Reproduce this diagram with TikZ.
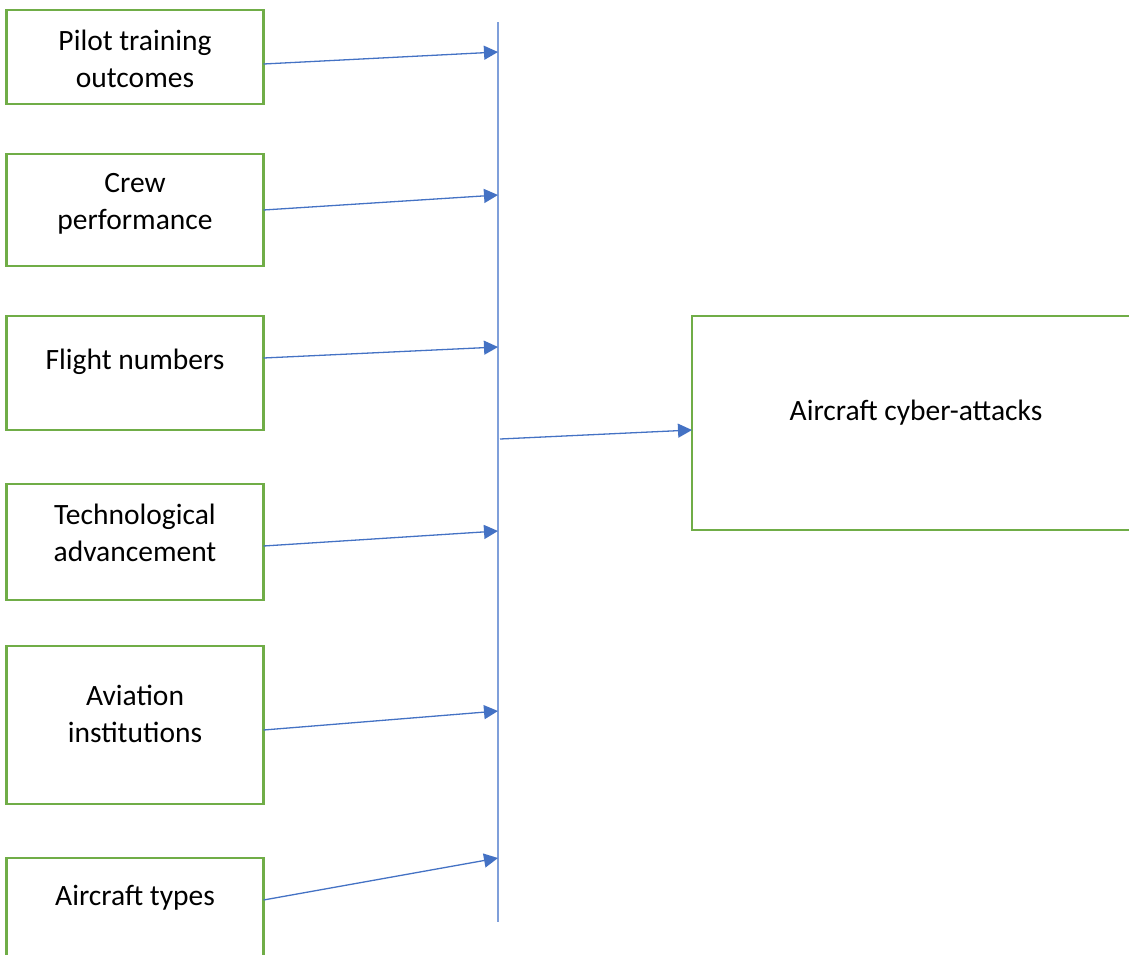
\documentclass[tikz,border=0pt]{standalone}
\usepackage{fontspec}
\setmainfont{Carlito}
\usetikzlibrary{arrows.meta,calc}
\definecolor{boxgreen}{HTML}{70AD47}
\definecolor{arrblue}{HTML}{4472C4}
\definecolor{lineblue}{HTML}{7F9FDA}
\tikzset{
  box/.style={draw=boxgreen,line width=2.8pt,inner sep=0pt,outer sep=0pt,fill=none},
  lbl/.style={align=center,inner sep=0pt,font=\fontsize{29.5}{37}\selectfont},
  arr/.style={draw=arrblue,line width=1.3pt,-{Triangle[length=14pt,width=14pt]}},
  bus/.style={draw=lineblue,line width=1.6pt}
}
\begin{document}
\begin{tikzpicture}[x=1pt,y=-1pt]
\useasboundingbox (0,0) rectangle (1129,954);
\clip (0,0) rectangle (1129,954);
% boxes
\node[box,minimum width=257pt,minimum height=94pt] (box1) at (135,57) {};
\node[box,minimum width=257pt,minimum height=112pt] (box2) at (135,210) {};
\node[box,minimum width=257pt,minimum height=114pt] (box3) at (135,373) {};
\node[box,minimum width=257pt,minimum height=116pt] (box4) at (135,542) {};
\node[box,minimum width=257pt,minimum height=158pt] (box5) at (135,725) {};
\node[box,minimum width=257pt,minimum height=140pt] (box6) at (135,928) {};
\node[box,minimum width=460pt,minimum height=214pt] (box7) at (922,423) {};
% texts
\node[lbl] (t1) at (135,59) {Pilot training\\outcomes};
\node[lbl] (t2) at (135,204) {Crew\\performance};
\node[lbl] (t3) at (135,362) {Flight numbers};
\node[lbl] (t4) at (135,533) {Technological\\advancement};
\node[lbl] (t5) at (135,714) {Aviation\\institutions};
\node[lbl] (t6) at (135,898) {Aircraft types};
\node[lbl] (t7) at (916,413) {Aircraft cyber-attacks};
% bus line
\coordinate (top) at (498,22);
\coordinate (bot) at (498,922);
\draw[bus] (top) -- (bot);
\coordinate (p1) at (498,52);
\coordinate (p2) at (498,195);
\coordinate (p3) at (498,347);
\coordinate (p4) at (498,531);
\coordinate (p5) at (498,711);
\coordinate (p6) at (498,858);
\coordinate (q) at (500,439);
% arrows
\draw[arr] ($(box1.north east)+(0,54)$) -- (p1);
\draw[arr] ($(box2.north east)+(0,56)$) -- (p2);
\draw[arr] ($(box3.north east)+(0,42)$) -- (p3);
\draw[arr] ($(box4.north east)+(0,62)$) -- (p4);
\draw[arr] ($(box5.north east)+(0,84)$) -- (p5);
\draw[arr] ($(box6.north east)+(0,42)$) -- (p6);
\draw[arr] (q) -- ($(box7.north west)+(0,114)$);
\end{tikzpicture}
\end{document}
